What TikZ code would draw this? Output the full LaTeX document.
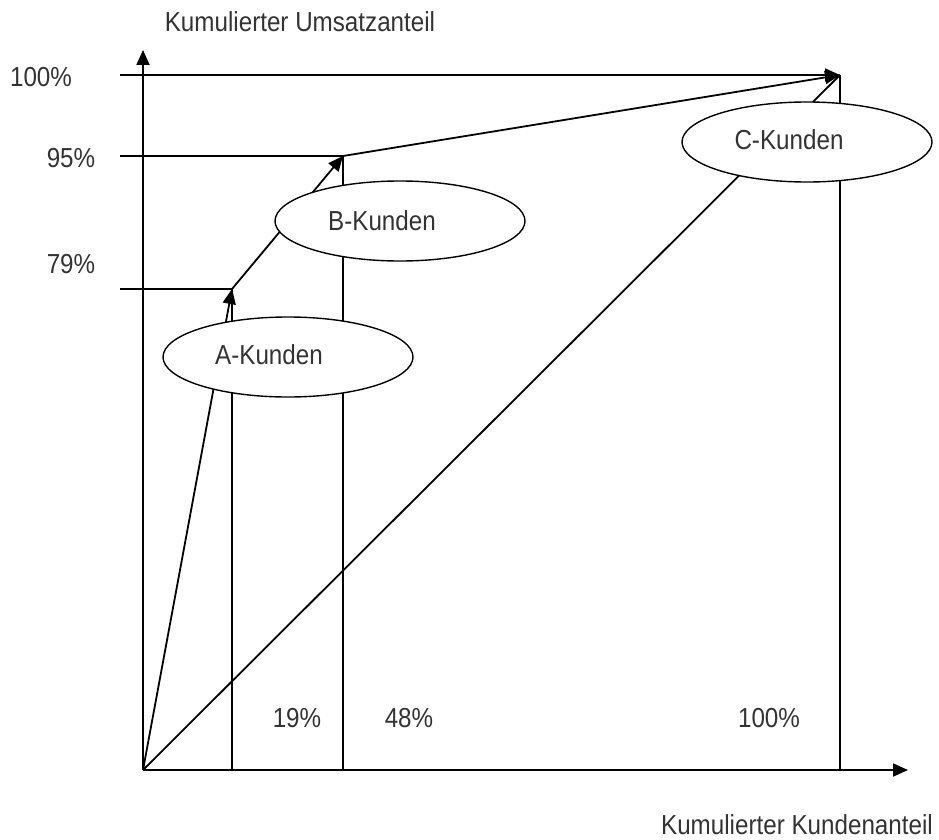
\documentclass[tikz,border=0pt]{standalone}
\usepackage{fontspec}
\setmainfont[FakeStretch=0.88]{Liberation Sans}
\usetikzlibrary{arrows.meta,shapes.geometric}
\begin{document}
\begin{tikzpicture}[x=1pt,y=-1pt,
  line/.style={line width=1.8pt,black},
  arr/.style={line,-{Triangle[length=15pt,width=13pt]}},
  guide/.style={line width=1.6pt,black},
  segment/.style={line width=1.4pt,draw=black,fill=white,ellipse,
    minimum width=250pt,minimum height=80pt,inner sep=0pt},
  lbl/.style={font=\fontsize{27.5}{32}\selectfont,text=black!80,inner sep=0pt}]
\useasboundingbox (0,0) rectangle (939,840);

% axes
\coordinate (O) at (143,770);
\coordinate (ytip) at (143,50);
\coordinate (xtip) at (908,770);
\draw[arr] (O) -- (ytip);
\draw[arr] (O) -- (xtip);

% curve points
\coordinate (p79) at (232,289);
\coordinate (p95) at (343,156);
\coordinate (p100) at (840,75);

% guide lines to the axes
\coordinate (h100) at (120,75);
\coordinate (h95) at (120,156);
\coordinate (h79) at (120,289);
\coordinate (b19) at (232,770);
\coordinate (b48) at (343,770);
\coordinate (b100) at (840,770);
\draw[arr] (h100) -- (p100);
\draw[guide] (h95) -- (p95);
\draw[guide] (h79) -- (p79);
\draw[guide] (p79) -- (b19);
\draw[guide] (p95) -- (b48);
\draw[guide] (p100) -- (b100);

% concentration curve and diagonal
\draw[line] (O) -- (p100);
\draw[arr] (O) -- (p79);
\draw[arr] (p79) -- (p95);
\draw[arr] (p95) -- (p100);

% customer segments
\node[segment] (A) at (288,357) {};
\node[segment] (B) at (400,221) {};
\node[segment] (C) at (807,142) {};
\node[lbl] (tA) at (269,355) {A-Kunden};
\node[lbl] (tB) at (382,221) {B-Kunden};
\node[lbl] (tC) at (789,140) {C-Kunden};

% axis value labels
\node[lbl] (l100) at (41,77) {100\%};
\node[lbl] (l95) at (71,158) {95\%};
\node[lbl] (l79) at (71,264) {79\%};
\node[lbl] (x19) at (297,718) {19\%};
\node[lbl] (x48) at (409,718) {48\%};
\node[lbl] (x100) at (769,718) {100\%};

% axis titles
\node[lbl] (ytitle) at (300,22) {Kumulierter Umsatzanteil};
\node[lbl] (xtitle) at (797,825) {Kumulierter Kundenanteil};
\end{tikzpicture}
\end{document}
